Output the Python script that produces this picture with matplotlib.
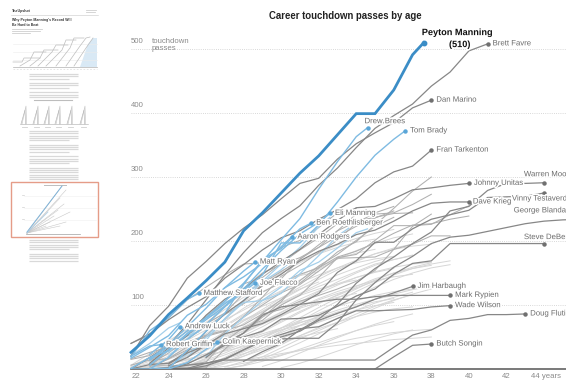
import matplotlib
matplotlib.use("Agg")
import matplotlib.pyplot as plt
import matplotlib.patheffects as pe
from matplotlib.patches import Rectangle, Polygon

plt.rcParams['font.family'] = ['Liberation Sans', 'DejaVu Sans']

# ---------------------------------------------------------------------------
# Career touchdown passes, cumulative, by age: (age of first season, totals)
# ---------------------------------------------------------------------------
MANNING = (22, [26, 52, 85, 111, 138, 167, 216, 244, 275, 306, 333, 366, 399, 399, 436, 491, 510])

ACTIVE_LABELED = {
    "Drew Brees": (22, [1, 18, 29, 56, 80, 106, 134, 168, 202, 235, 281, 324, 363, 377]),
    "Tom Brady": (23, [0, 18, 46, 69, 97, 123, 147, 197, 197, 225, 261, 300, 334, 359, 372]),
    "Eli Manning": (23, [6, 30, 54, 77, 98, 125, 156, 185, 211, 229, 243]),
    "Ben Roethlisberger": (22, [17, 34, 52, 84, 101, 127, 144, 165, 191, 219, 228]),
    "Aaron Rodgers": (22, [0, 0, 1, 29, 59, 87, 132, 171, 188, 206]),
    "Matt Ryan": (23, [16, 38, 66, 95, 127, 153, 167]),
    "Joe Flacco": (23, [14, 35, 60, 80, 102, 121, 134]),
    "Matthew Stafford": (22, [19, 60, 80, 109, 118]),
    "Andrew Luck": (23, [23, 46, 66]),
    "Robert Griffin": (22, [20, 36, 38]),
    "Colin Kaepernick": (24, [0, 10, 31, 42]),
}

ACTIVE_OTHER = [
    (23, [1, 2, 24, 45, 79, 107, 137, 164, 190, 222, 237]),
    (25, [18, 50, 78, 104, 107, 128, 154, 167, 189, 213, 219]),
    (26, [19, 55, 81, 107, 118, 149, 177, 208, 220]),
    (23, [9, 29, 54, 81, 104, 117, 136, 155, 170]),
    (22, [21, 40, 64, 72]),
    (24, [26, 52, 58]),
    (24, [20, 47, 80, 87]),
]

RETIRED_LABELED = {
    "Brett Favre": (22, [0, 18, 37, 70, 108, 147, 182, 213, 235, 255, 287, 314, 346, 376, 396, 414, 442, 464, 497, 508]),
    "Dan Marino": (22, [20, 68, 98, 142, 168, 196, 220, 241, 266, 290, 298, 328, 352, 369, 385, 408, 420]),
    "Fran Tarkenton": (22, [40, 55, 77, 96, 113, 142, 163, 186, 205, 216, 234, 249, 266, 291, 308, 317, 342]),
    "Johnny Unitas": (23, [9, 33, 52, 84, 109, 125, 148, 168, 187, 210, 232, 252, 254, 266, 280, 283, 287, 290]),
    "Warren Moon": (28, [12, 27, 40, 61, 78, 101, 134, 157, 175, 196, 214, 247, 254, 279, 290, 290, 291]),
    "Dave Krieg": (22, [0, 7, 9, 27, 59, 86, 107, 130, 148, 169, 184, 195, 210, 217, 231, 247, 259, 261, 261]),
    "Vinny Testaverde": (24, [5, 18, 38, 55, 63, 71, 85, 101, 118, 151, 169, 198, 198, 219, 234, 241, 248, 268, 269, 270, 275]),
    "George Blanda": (22, [0, 0, 2, 8, 22, 37, 40, 43, 47, 48, 48, 72, 108, 135, 159, 176, 196, 206, 209, 215, 221, 227, 231, 233, 234, 235, 236]),
    "Steve DeBerg": (24, [8, 25, 37, 43, 50, 59, 78, 79, 84, 98, 114, 125, 148, 165, 169, 196, 196, 196, 196, 196, 196]),
    "Jim Harbaugh": (24, [0, 0, 5, 15, 30, 43, 50, 59, 76, 87, 97, 109, 119, 129]),
    "Mark Rypien": (26, [18, 40, 56, 84, 97, 101, 105, 109, 109, 113, 115, 115, 115, 115]),
    "Wade Wilson": (22, [0, 0, 1, 6, 9, 16, 30, 45, 54, 63, 66, 79, 91, 91, 92, 93, 97, 99]),
    "Doug Flutie": (24, [1, 1, 9, 14, 14, 14, 14, 14, 14, 14, 14, 14, 34, 53, 61, 76, 79, 85, 85, 86]),
    "Butch Songin": (35, [0, 19, 37, 39]),
}

RETIRED_OTHER = [
    (23, [7, 25, 47, 66, 85, 102, 120, 135, 148, 158, 183, 199, 225, 251, 278, 300]),
    (23, [1, 16, 35, 52, 78, 106, 133, 141, 172, 190, 216, 242, 242, 244, 257, 273]),
    (22, [6, 14, 16, 30, 34, 58, 82, 112, 145, 162, 182, 201, 228, 244, 254]),
    (23, [5, 5, 6, 11, 43, 65, 76, 100, 115, 143, 174, 179, 201, 224, 224, 226, 241, 255]),
    (22, [16, 26, 34, 42, 53, 60, 69, 86, 93, 106, 115, 125, 137, 154, 187, 223, 242]),
    (22, [0, 1, 1, 2, 2, 31, 57, 87, 108, 134, 158, 175, 184, 197, 212, 225, 227, 234, 239]),
    (22, [15, 21, 39, 59, 82, 106, 133, 143, 165, 186, 205, 227, 231, 237, 243, 244]),
    (23, [14, 28, 39, 51, 59, 81, 100, 119, 132, 153, 173, 174, 175, 187, 195, 208, 208]),
    (22, [40, 53, 80, 108, 128, 147, 164, 166, 190, 201, 221, 244, 251]),
    (26, [22, 41, 56, 81, 105, 138, 161, 179, 201, 223, 237]),
    (23, [3, 30, 54, 70, 98, 126, 150, 163, 174, 190, 207, 223, 236, 247]),
    (23, [8, 29, 54, 71, 87, 118, 134, 152, 171, 194, 216, 230, 234]),
]

# every other quarterback, drawn faintly behind
OTHER_QBS = [
    (22, [3, 15, 30, 48, 70, 88, 105, 121, 134, 146, 152]),
    (23, [8, 20, 38, 55, 74, 95, 112, 130, 146, 160, 172, 181, 187]),
    (22, [0, 5, 18, 33, 51, 66, 84, 98, 111, 125, 136]),
    (24, [2, 12, 29, 47, 63, 82, 100, 117, 129, 140, 152, 164, 171, 178]),
    (23, [1, 10, 22, 35, 46, 59, 70, 83, 95, 104, 112, 118]),
    (22, [6, 24, 44, 62, 80, 99, 118, 137, 153, 168, 180, 190, 198, 203]),
    (25, [4, 16, 31, 45, 61, 75, 90, 103, 115, 127, 137, 145]),
    (23, [0, 3, 9, 21, 36, 52, 66, 82, 97, 110, 121, 130, 138, 144, 148]),
    (24, [10, 25, 41, 58, 75, 89, 104, 118, 133, 147, 158, 168, 176]),
    (22, [2, 9, 17, 28, 38, 50, 63, 74, 85, 94]),
    (26, [5, 18, 33, 48, 64, 80, 96, 111, 125, 139, 150, 159, 166]),
    (23, [4, 17, 33, 50, 68, 86, 103, 121, 139, 156, 172, 185, 196, 205, 211]),
    (24, [0, 6, 14, 25, 37, 48, 61, 72, 82, 92, 101, 109, 115]),
    (22, [1, 4, 10, 19, 30, 43, 56, 70, 84, 97, 108, 118, 126]),
    (25, [8, 22, 39, 56, 72, 88, 104, 121, 136, 150, 162, 171, 177]),
    (23, [12, 28, 45, 61, 77, 92, 108, 122, 135, 147, 158, 166, 172, 176]),
    (27, [3, 12, 24, 38, 52, 65, 79, 92, 103, 112, 120]),
    (22, [0, 2, 7, 15, 24, 34, 45, 55, 64, 73, 80, 86]),
    (24, [5, 19, 36, 53, 71, 90, 108, 124, 140, 155, 168, 180, 189, 195]),
    (26, [0, 8, 20, 33, 47, 60, 74, 87, 98, 109, 117, 124, 129]),
    (23, [2, 8, 15, 24, 33, 43, 52, 61, 68, 74]),
    (25, [1, 7, 16, 27, 39, 51, 62, 73, 83, 92, 99, 104]),
    (22, [5, 18, 35, 54, 73, 93, 112, 131, 150, 166, 181, 194, 204, 212, 218]),
    (28, [6, 19, 33, 47, 60, 73, 86, 98, 108, 116]),
    (24, [3, 10, 19, 29, 40, 52, 64, 76, 87, 98, 107, 115, 121, 125]),
    (23, [0, 1, 4, 9, 16, 24, 33, 42, 50, 57, 63]),
    (26, [2, 11, 23, 37, 52, 68, 83, 99, 114, 128, 140, 150, 158, 163]),
    (22, [3, 12, 23, 36, 50, 63, 77, 90, 103, 115, 125, 133, 139]),
    (25, [0, 4, 11, 20, 30, 41, 52, 63, 73, 82, 89, 94, 97]),
    (24, [7, 21, 38, 56, 75, 93, 111, 128, 144, 158, 170, 180, 187, 192, 195]),
    (27, [1, 5, 12, 21, 31, 41, 51, 60, 68, 74]),
    (23, [6, 15, 26, 38, 52, 66, 81, 95, 109, 122, 133, 143, 151, 157]),
    (29, [4, 13, 25, 37, 49, 60, 70, 79, 86]),
    (22, [0, 3, 8, 14, 21, 28, 35, 41, 46, 50]),
    (26, [3, 14, 28, 43, 59, 75, 91, 106, 121, 135, 147, 157, 164, 169]),
    (24, [1, 5, 12, 22, 33, 45, 57, 68, 79, 89, 98, 105, 110]),
    (25, [5, 17, 30, 44, 58, 73, 88, 102, 116, 129, 141, 150, 157, 162]),
    (30, [2, 9, 18, 28, 38, 47, 55, 61]),
    (23, [3, 11, 21, 33, 46, 60, 74, 89, 104, 118, 131, 143, 152, 159, 164, 167]),
    (27, [0, 6, 16, 28, 41, 55, 69, 82, 95, 107, 117, 125]),
    (24, [0, 2, 5, 9, 14, 19, 24, 29, 33, 37, 40, 43, 46, 48, 50]),
    (26, [1, 4, 9, 15, 22, 29, 36, 42, 48, 53, 57, 60, 62]),
]

Y_TICKS = [100, 200, 300, 400, 500]
X_TICKS = [22, 24, 26, 28, 30, 32, 34, 36, 38, 40, 42, 44]
X_TICK_LABELS = ["22", "24", "26", "28", "30", "32", "34", "36", "38", "40", "42", "44 years"]
TITLE = "Career touchdown passes by age"

# the 2014 season was still under way: its point sits part-way into the year
IN_PROGRESS_SHIFT = -0.4

# ---------------------------------------------------------------------------
W, H = 566, 380
fig = plt.figure(figsize=(W / 100, H / 100), dpi=100)
fig.patch.set_facecolor("white")


def box(x0, y0, x1, y1):
    return [x0 / W, 1 - y1 / H, (x1 - x0) / W, (y1 - y0) / H]


PX_YEAR = 18.77
PX_TD = 0.64
ax = fig.add_axes(box(126, 11, 566, 369))
ax.set_xlim(22 - 5 / PX_YEAR, 22 + (566 - 131) / PX_YEAR)
ax.set_ylim(0, (369 - 11) / PX_TD)
ax.axis("off")


def series(rec, active=False):
    start, vals = rec
    ages = [start + i for i in range(len(vals))]
    if active:
        ages[-1] += IN_PROGRESS_SHIFT
    return ages, vals


halo = [pe.withStroke(linewidth=2.2, foreground="white")]
GREY_TXT = "#6b6b6b"
LBL = 5.6

# grid + baseline
for v in Y_TICKS:
    ax.plot([22, ax.get_xlim()[1]], [v, v], color="#cccccc", lw=0.6,
            ls=(0, (1, 1.6)), zorder=0)
    ax.annotate(str(v), xy=(22, v), xytext=(0, 4), textcoords="offset pixels",
                fontsize=5.6, color="#8a8a8a", va="bottom", ha="left")
ax.annotate("touchdown\npasses", xy=(22, 500), xytext=(21, 11), textcoords="offset pixels",
            fontsize=5.6, color="#8a8a8a", va="top", ha="left", linespacing=1.05)
ax.plot([22, ax.get_xlim()[1]], [0, 0], color="#6e6e6e", lw=1.3, zorder=6, clip_on=False)
for t, s in zip(X_TICKS, X_TICK_LABELS):
    ax.annotate(s, xy=(t, 0), xytext=(5 if t == 22 else (2 if t == 44 else 0), -8),
                textcoords="offset pixels", fontsize=5.6, color="#8a8a8a",
                ha="center", va="center", annotation_clip=False)

# faint field
for rec in OTHER_QBS:
    a, v = series(rec)
    ax.plot(a, v, color="#d6d6d6", lw=0.7, zorder=1)

for rec in RETIRED_OTHER:
    a, v = series(rec)
    ax.plot(a, v, color="#b0b0b0", lw=0.75, zorder=2)

for rec in ACTIVE_OTHER:
    a, v = series(rec, active=True)
    ax.plot(a, v, color="#a4cfea", lw=0.9, zorder=3)

# labelled retired players
retired_offsets = {
    "Brett Favre": (5, 0),
    "Dan Marino": (5, 0),
    "Fran Tarkenton": (5, 0),
    "Johnny Unitas": (5, 0),
    "Warren Moon": (-20, 8),
    "Dave Krieg": (4, 0),
    "Vinny Testaverde": (-32, -6),
    "Steve DeBerg": (-20, 6),
    "Jim Harbaugh": (5, 0),
    "Mark Rypien": (5, 0),
    "Wade Wilson": (5, 0),
    "Doug Flutie": (5, 0),
    "Butch Songin": (5, 0),
}
for name, rec in RETIRED_LABELED.items():
    a, v = series(rec)
    ax.plot(a, v, color="#878787", lw=0.9, zorder=4)
    if name == "George Blanda":
        ax.annotate(name, xy=(a[23], v[23]), xytext=(-49, 9), textcoords="offset pixels",
                    fontsize=LBL, color=GREY_TXT, va="center", ha="left",
                    path_effects=halo, zorder=8, annotation_clip=False)
        continue
    ax.plot(a[-1], v[-1], "o", ms=2.2, color="#707070", zorder=5, clip_on=False)
    dx, dy = retired_offsets[name]
    ax.annotate(name, xy=(a[-1], v[-1]), xytext=(dx, dy), textcoords="offset pixels",
                fontsize=LBL, color=GREY_TXT, va="center", ha="left",
                path_effects=halo, zorder=8, annotation_clip=False)

# labelled active players
active_offsets = {"Drew Brees": (-3, 6)}
for name, rec in ACTIVE_LABELED.items():
    a, v = series(rec, active=True)
    ax.plot(a, v, color="#7fbbe2", lw=1.0, zorder=6)
    ax.plot(a[-1], v[-1], "o", ms=2.2, color="#5aa6d8", zorder=7)
    dx, dy = active_offsets.get(name, (5, 0))
    ax.annotate(name, xy=(a[-1], v[-1]), xytext=(dx, dy), textcoords="offset pixels",
                fontsize=LBL, color=GREY_TXT, va="center", ha="left",
                path_effects=halo, zorder=8)

# Peyton Manning
a, v = series(MANNING, active=True)
ax.plot(a, v, color="#3b8dc6", lw=2.0, zorder=9, solid_joinstyle="miter")
ax.plot(a[-1], v[-1], "o", ms=3.2, color="#3b8dc6", zorder=10, clip_on=False)
ax.annotate("Peyton Manning", xy=(a[-1], v[-1]), xytext=(-2, 10), textcoords="offset pixels",
            fontsize=6.6, fontweight="bold", color="#111111", ha="left", va="center",
            path_effects=halo, zorder=11, annotation_clip=False)
ax.annotate(f"({v[-1]})", xy=(a[-1], v[-1]), xytext=(36, -2), textcoords="offset pixels",
            fontsize=6.6, fontweight="bold", color="#111111", ha="center", va="center",
            path_effects=halo, zorder=11, annotation_clip=False)

fig.text(345 / W, 1 - 16 / H, TITLE, fontsize=6.9, fontweight="bold",
         color="#222222", ha="center", va="center")

# ---------------------------------------------------------------------------
# page overview strip on the left
# ---------------------------------------------------------------------------
th = fig.add_axes(box(0, 0, 110, 380))
th.set_xlim(0, 110)
th.set_ylim(380, 0)
th.axis("off")

TXT = "#d9d9d9"


def text_lines(y0, y1, x0=29, x1=78, step=2.3, breaks=()):
    y, i = y0, 0
    while y <= y1:
        if i not in breaks:
            end = x1 - (9 if (i + 1) in breaks else 0)
            th.plot([x0, end], [y, y], color=TXT, lw=0.9, solid_capstyle="butt")
        y += step
        i += 1


th.text(12, 11, "TheUpshot", fontsize=2.6, fontweight="bold", color="#333333", va="center")
th.plot([86, 96], [9.5, 9.5], color="#cfcfcf", lw=0.6)
th.plot([86, 95], [11.5, 11.5], color="#cfcfcf", lw=0.6)
th.plot([11, 98], [15, 15], color="#c8c8c8", lw=0.4)
th.text(12, 18.5, "Why Peyton Manning's Record Will\nBe Hard to Beat", fontsize=2.5,
        fontweight="bold", color="#333333", va="top", linespacing=1.1)
for yy, xe in [(28.5, 42), (30.5, 40), (32.5, 30)]:
    th.plot([12, xe], [yy, yy], color="#cfcfcf", lw=0.6)

# top chart of the page
for yy in [44, 52, 60]:
    th.plot([13, 97], [yy, yy], color="#ececec", lw=0.4)
th.add_patch(Polygon([[80, 67], [88, 44], [93, 38], [97, 38], [97, 67]],
                     closed=True, color="#d9e9f5", lw=0))
steps = [
    [(13, 62), (22, 62), (24, 58), (40, 58)],
    [(20, 66), (30, 60), (34, 52), (46, 52)],
    [(30, 66), (40, 58), (44, 50), (58, 50)],
    [(38, 66), (52, 52), (56, 45), (68, 45)],
    [(46, 66), (62, 50), (66, 40), (76, 40)],
    [(56, 66), (70, 48), (74, 38), (84, 38)],
    [(66, 66), (80, 46), (86, 38), (90, 37)],
    [(74, 66), (86, 48), (93, 38)],
]
for pts in steps:
    xs, ys = zip(*pts)
    th.plot(xs, ys, color="#bdbdbd", lw=0.5)
th.plot([13, 97], [67, 67], color="#b0b0b0", lw=0.5)
th.plot([13, 97], [69, 69], color="#e0e0e0", lw=0.6, ls=(0, (2, 2)))

text_lines(74, 97, breaks=(3, 7))

# spike chart
th.plot([34, 72], [100, 100], color="#bdbdbd", lw=0.8)
for x in [24, 36, 47, 58, 70, 83]:
    th.plot([x - 3, x + 1, x + 1.5], [124, 110, 124], color="#acacac", lw=0.4)
    th.plot([x - 2, x + 2, x + 2.5], [124, 106, 124], color="#c0c0c0", lw=0.4)
    th.plot([x - 2, x + 3], [127, 127], color="#d0d0d0", lw=0.6)
th.plot([20, 88], [124, 124], color="#acacac", lw=0.4)

text_lines(131, 180, breaks=(5, 10, 15))

# highlighted chart
th.add_patch(Rectangle((11, 182), 87, 55, fill=False, edgecolor="#e59c88", lw=1.0))
th.plot([44, 66], [184.5, 184.5], color="#bdbdbd", lw=0.7)
for yy in [196, 208, 220]:
    th.plot([24, 96], [yy, yy], color="#efefef", lw=0.4)
    th.plot([22, 24], [yy - 1.5, yy - 1.5], color="#d0d0d0", lw=0.5)
fan = [(62, 186), (66, 190), (60, 198), (64, 204), (58, 210), (70, 212), (54, 216),
       (66, 222), (50, 222), (60, 226), (46, 226)]
for xe, ye in fan:
    th.plot([27, xe], [233, ye], color="#c9c9c9", lw=0.4)
th.plot([27, 62], [232, 186], color="#7fb3d8", lw=0.7)
th.plot([27, 48], [233, 212], color="#a9cce6", lw=0.5)
th.plot([26, 80], [233.5, 233.5], color="#a0a0a0", lw=0.5)

text_lines(240, 263, breaks=(5,))

fig.savefig("out.png", dpi=100, facecolor="white")
